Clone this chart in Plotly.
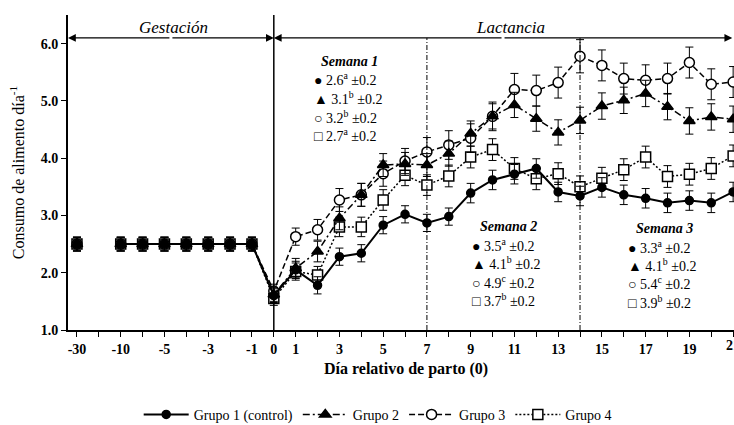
import plotly.graph_objects as go

tick_labels = ["-30", "", "-10", "", "-5", "", "-3", "", "-1", "0",
               "1", "", "3", "", "5", "", "7", "", "9", "", "11", "", "13", "",
               "15", "", "17", "", "19", "", "21"]

grupo1 = [2.5, None, 2.5, 2.5, 2.5, 2.5, 2.5, 2.5, 2.5, 1.60,
          2.05, 1.78, 2.28, 2.34, 2.83, 3.02, 2.87, 2.98, 3.39, 3.62, 3.72,
          3.82, 3.41, 3.34, 3.49, 3.36, 3.30, 3.22, 3.26, 3.22, 3.41]
grupo2 = [2.5, None, 2.5, 2.5, 2.5, 2.5, 2.5, 2.5, 2.5, 1.62,
          2.08, 2.37, 2.95, 3.36, 3.88, 3.90, 3.88, 4.08, 4.43, 4.73, 4.93,
          4.69, 4.45, 4.66, 4.91, 5.01, 5.13, 4.90, 4.65, 4.72, 4.68]
grupo3 = [2.5, None, 2.5, 2.5, 2.5, 2.5, 2.5, 2.5, 2.5, 1.68,
          2.63, 2.75, 3.27, 3.36, 3.73, 3.95, 4.11, 4.23, 4.35, 4.73, 5.20,
          5.18, 5.32, 5.78, 5.62, 5.39, 5.36, 5.39, 5.67, 5.29, 5.33]
grupo4 = [2.5, None, 2.5, 2.5, 2.5, 2.5, 2.5, 2.5, 2.5, 1.55,
          2.02, 1.96, 2.80, 2.80, 3.27, 3.70, 3.53, 3.69, 4.02, 4.15, 3.82,
          3.64, 3.73, 3.50, 3.65, 3.80, 4.02, 3.68, 3.72, 3.82, 4.04]

err1 = [0.12, None, 0.12, 0.12, 0.12, 0.12, 0.12, 0.12, 0.12, 0.12,
        0.15, 0.15, 0.15, 0.15, 0.15, 0.15, 0.15, 0.15, 0.17, 0.17, 0.17,
        0.17, 0.17, 0.17, 0.17, 0.17, 0.17, 0.17, 0.17, 0.17, 0.17]
err2 = [0.12, None, 0.12, 0.12, 0.12, 0.12, 0.12, 0.12, 0.12, 0.12,
        0.17, 0.18, 0.2, 0.2, 0.2, 0.2, 0.2, 0.22, 0.22, 0.22, 0.22,
        0.22, 0.22, 0.23, 0.23, 0.23, 0.23, 0.23, 0.23, 0.23, 0.23]
err3 = [0.12, None, 0.12, 0.12, 0.12, 0.12, 0.12, 0.12, 0.12, 0.12,
        0.15, 0.18, 0.2, 0.2, 0.22, 0.22, 0.25, 0.25, 0.25, 0.25, 0.28,
        0.27, 0.27, 0.29, 0.27, 0.27, 0.27, 0.27, 0.27, 0.27, 0.27]
err4 = [0.12, None, 0.12, 0.12, 0.12, 0.12, 0.12, 0.12, 0.12, 0.12,
        0.15, 0.15, 0.17, 0.17, 0.18, 0.18, 0.18, 0.19, 0.19, 0.19, 0.19,
        0.19, 0.19, 0.19, 0.19, 0.19, 0.19, 0.19, 0.19, 0.19, 0.19]

series_names = ["Grupo 1 (control)", "Grupo 2", "Grupo 3", "Grupo 4"]

semana_titles = ["Semana 1", "Semana 2", "Semana 3"]
semana_values = [["2.6", "3.1", "3.2", "2.7"],
                 ["3.5", "4.1", "4.9", "3.7"],
                 ["3.3", "4.1", "5.4", "3.9"]]
semana_letters = [["a", "b", "b", "a"],
                  ["a", "b", "c", "b"],
                  ["a", "b", "c", "b"]]
semana_sem = "±0.2"
semana_symbols = ["●", "▲", "○", "□"]

x = list(range(len(tick_labels)))
FONT = "Liberation Serif, Times New Roman, serif"

styles = [
    dict(dash="solid", symbol="circle", size=8, fill="black", width=2.0),
    dict(dash="7px,3px,2px,3px", symbol="triangle-up", size=10, fill="black", width=1.5),
    dict(dash="6px,3px", symbol="circle", size=10, fill="white", width=1.5),
    dict(dash="2px,2px", symbol="square", size=10, fill="white", width=1.5),
]
data = [grupo1, grupo2, grupo3, grupo4]
errs = [err1, err2, err3, err4]

fig = go.Figure()
for k in [3, 2, 1, 0]:
    st = styles[k]
    fig.add_trace(go.Scatter(
        x=x, y=data[k], name=series_names[k], mode="lines+markers",
        legendrank=k + 1,
        line=dict(color="black", width=st["width"], dash=st["dash"]),
        marker=dict(symbol=st["symbol"], size=st["size"], color=st["fill"],
                    line=dict(color="black", width=1.5)),
        error_y=dict(type="data", array=errs[k], color="black",
                     thickness=1, width=4),
        connectgaps=False,
    ))

idx0 = tick_labels.index("0")
idx7 = tick_labels.index("7")
idx14 = tick_labels.index("13") + 1
xmin, xmax = -0.41, 30.04
yarrow = 6.1

shapes = [
    dict(type="line", xref="x", yref="y", x0=idx0, x1=idx0, y0=1.0, y1=6.5,
         line=dict(color="black", width=1.5)),
    dict(type="line", xref="x", yref="y", x0=idx7, x1=idx7, y0=1.0, y1=yarrow,
         line=dict(color="black", width=1, dash="5px,2px,1px,2px")),
    dict(type="line", xref="x", yref="y", x0=idx14, x1=idx14, y0=1.0, y1=yarrow,
         line=dict(color="black", width=1, dash="5px,2px,1px,2px")),
]

annotations = []
for a, b in [(xmin, idx0), (idx0, xmax - 0.08)]:
    mid = (a + b) / 2
    for end in (a, b):
        annotations.append(dict(x=end, y=yarrow, ax=mid, ay=yarrow, xref="x", yref="y",
                                axref="x", ayref="y", text="", showarrow=True,
                                arrowhead=2, arrowsize=1.3, arrowwidth=1.2,
                                arrowcolor="black"))
annotations.append(dict(x=4.43, y=6.29, xref="x", yref="y", text="<i>Gestación</i>",
                        showarrow=False, font=dict(size=17, family=FONT, color="black")))
annotations.append(dict(x=19.8, y=6.29, xref="x", yref="y", text="<i>Lactancia</i>",
                        showarrow=False, font=dict(size=17, family=FONT, color="black")))

block_pos = [
    dict(tx=12.48, ty=5.69, lx=10.75, ly=[5.38, 5.05, 4.72, 4.40]),
    dict(tx=19.71, ty=2.80, lx=17.95, ly=[2.48, 2.17, 1.84, 1.52]),
    dict(tx=26.84, ty=2.78, lx=25.12, ly=[2.45, 2.13, 1.82, 1.49]),
]
for b, bp in enumerate(block_pos):
    annotations.append(dict(x=bp["tx"], y=bp["ty"], xref="x", yref="y",
                            text="<b><i>" + semana_titles[b] + "</i></b>",
                            showarrow=False,
                            font=dict(size=14, family=FONT, color="black")))
    for j in range(4):
        txt = (semana_symbols[j] + " " + semana_values[b][j] +
               "<sup>" + semana_letters[b][j] + "</sup> " + semana_sem)
        annotations.append(dict(x=bp["lx"], y=bp["ly"][j], xref="x", yref="y",
                                xanchor="left", text=txt, showarrow=False,
                                font=dict(size=14, family=FONT, color="black")))

annotations.append(dict(x=-0.077, y=0.5, xref="paper", yref="paper", textangle=-90,
                        xanchor="center", yanchor="middle",
                        text="Consumo de alimento día<sup>-1</sup>", showarrow=False,
                        font=dict(size=16, family=FONT, color="black")))
# last tick label (partly outside the page, as in the reference)
annotations.append(dict(x=x[-1], y=0, xref="x", yref="paper", yanchor="top", yshift=-6,
                        text="<b>" + tick_labels[-1] + "</b>", showarrow=False,
                        font=dict(size=14, family=FONT, color="black")))
annotations.append(dict(x=0.508, y=-0.09, xref="paper", yref="paper", yanchor="top",
                        text="<b>Día relativo de parto (0)</b>", showarrow=False,
                        font=dict(size=16, family=FONT, color="black")))

fig.update_layout(
    width=734, height=425,
    margin=dict(l=68, r=0, t=15, b=95),
    paper_bgcolor="white", plot_bgcolor="white",
    font=dict(family=FONT, color="black"),
    shapes=shapes, annotations=annotations,
    showlegend=True,
    legend=dict(orientation="h", x=0.465, xanchor="center", xref="paper",
                y=0.024, yref="container", yanchor="middle", itemwidth=45,
                font=dict(size=14, family=FONT, color="black"),
                bgcolor="rgba(0,0,0,0)"),
    xaxis=dict(range=[xmin, xmax], tickmode="array", tickvals=x,
               ticktext=tick_labels[:-1] + [""], automargin=False,
               showline=True, linecolor="black", linewidth=2, ticks="outside",
               ticklen=5, tickwidth=1, tickcolor="black", showgrid=False, zeroline=False,
               tickfont=dict(size=14, family=FONT, color="black", weight="bold")),
    yaxis=dict(range=[1.0, 6.5], tickmode="array", tickvals=[1, 2, 3, 4, 5, 6],
               ticktext=["1.0", "2.0", "3.0", "4.0", "5.0", "6.0"], automargin=False,
               showline=True, linecolor="black", linewidth=2, ticks="outside",
               ticklen=5, tickwidth=1, tickcolor="black", showgrid=False, zeroline=False,
               tickfont=dict(size=14, family=FONT, color="black", weight="bold")),
)

fig.write_html("out.html")
